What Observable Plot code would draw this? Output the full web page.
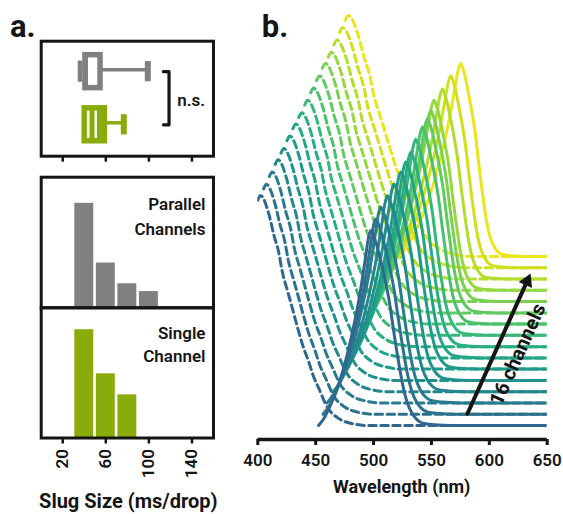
<!DOCTYPE html>
<html>
<head>
<meta charset="utf-8">
<script src="https://cdn.jsdelivr.net/npm/d3@7"></script>
<script src="https://cdn.jsdelivr.net/npm/@observablehq/plot@0.6"></script>
<style>
  body { margin: 0; background: #fff; }
  #root { position: relative; width: 563px; height: 514px; overflow: hidden; font-family: Roboto, sans-serif; }
  #root svg { position: absolute; overflow: visible; }
</style>
</head>
<body>
<div id="root"></div>
<script>
// ---------------- data: panel a ----------------
const slugTicks = [20, 60, 100, 140];
const groups = ["Parallel Channels", "Single Channel"];
const boxMin = [36, 40];
const boxQ1 = [41.1, 40.4];
const boxMedian = [41.1, 47.2];
const boxMean = [41.1, 54.1];
const boxQ3 = [55.1, 59.1];
const boxMax = [99, 76.7];

const binStart = [30, 50, 70, 90];
const binEnd = [50, 70, 90, 110];
const parallelFreq = [0.56, 0.24, 0.129, 0.087];
const singleFreq = [0.582, 0.345, 0.232];

// ---------------- data: panel b ----------------
const wavelengthTicks = [400, 450, 500, 550, 600, 650];
const channels = [1, 2, 3, 4, 5, 6, 7, 8, 9, 10, 11, 12, 13, 14, 15, 16];
const channelOffset = [0.07, 0.126, 0.183, 0.239, 0.295, 0.352, 0.408, 0.464, 0.521, 0.577, 0.633, 0.69, 0.746, 0.802, 0.859, 0.915];
// dashed (absorbance-like) curves
const absStart = [400, 405, 410, 415, 420, 425.2, 430.3, 435.4, 440.5, 445.6, 450.7, 455.8, 460.8, 465.7, 470.6, 475.5];
const absPeak = [1.15, 1.15, 1.155, 1.16, 1.16, 1.165, 1.17, 1.17, 1.175, 1.18, 1.185, 1.19, 1.19, 1.195, 1.2, 1.205];
const absWidth = [1.0, 1.01, 1.02, 1.03, 1.05, 1.06, 1.07, 1.08, 1.09, 1.1, 1.11, 1.13, 1.14, 1.15, 1.16, 1.17];
const absShapeOffset = [0, 2.3, 9.5, 13.8, 18.2, 21.1, 25.4, 29.8, 34.1, 38.4, 44.1, 48.4, 52.8, 60, 70, 80, 95];
const absShapeLevel = [0.98, 1.0, 0.92, 0.83, 0.75, 0.67, 0.59, 0.51, 0.43, 0.355, 0.275, 0.21, 0.16, 0.08, 0.03, 0.01, 0];
// solid (emission) curves
const emPeakNm = [497.5, 501.8, 506.1, 511.9, 517.6, 523.4, 527.8, 532.1, 536.4, 542.2, 546.5, 549.4, 552.2, 559.5, 566.7, 575.3];
const emPeak = [0.975, 0.977, 0.98, 0.98, 0.983, 0.985, 0.98, 0.972, 0.98, 0.985, 0.97, 0.955, 0.95, 0.95, 0.96, 0.965];
const emLeftWidth = [1.0, 1.01, 1.03, 1.04, 1.05, 1.07, 1.08, 1.09, 1.11, 1.12, 1.13, 1.15, 1.16, 1.17, 1.19, 1.2];
const emRightWidth = [1.0, 0.99, 0.97, 0.96, 0.94, 0.93, 0.91, 0.9, 0.88, 0.87, 0.85, 0.84, 0.82, 0.81, 0.79, 0.78];
const emShapeOffset = [-45, -40, -35, -30, -25, -20, -15, -10, -7, -4, -2, 0, 2, 5, 8, 12, 16, 20, 24, 28, 32, 36, 40, 45, 55, 70];
const emShapeLevel = [0, 0.04, 0.10, 0.17, 0.26, 0.37, 0.50, 0.65, 0.76, 0.88, 0.96, 1, 0.98, 0.93, 0.86, 0.76, 0.64, 0.48, 0.33, 0.2, 0.11, 0.06, 0.03, 0.012, 0.004, 0];

// ---------------- styles ----------------
const INK = "#151515";
const groupColor = ["#808080", "#8aab0c"];
const chColor = i => d3.interpolateViridis(0.33 + 0.64 * i / 15);
const baseStyle = {background: "transparent", fontFamily: "Roboto, sans-serif", fontSize: "17px", fontWeight: 600, color: INK};

const root = document.getElementById("root");
function place(svg, left, top) {
  svg.style.left = left + "px";
  svg.style.top = top + "px";
  root.appendChild(svg);
}

// ---------------- panel b ----------------
const absData = [], emData = [];
for (let i = channels.length - 1; i >= 0; --i) {
  const color = chColor(i);
  absShapeOffset.forEach((d, k) => absData.push({ch: channels[i], color, wavelength: absStart[i] + d * absWidth[i], intensity: channelOffset[i] + absPeak[i] * absShapeLevel[k]}));
  absData.push({ch: channels[i], color, wavelength: 650, intensity: channelOffset[i]});
  emShapeOffset.forEach((d, k) => emData.push({ch: channels[i], color, wavelength: emPeakNm[i] + d * (d < 0 ? emLeftWidth[i] : emRightWidth[i]), intensity: channelOffset[i] + emPeak[i] * emShapeLevel[k]}));
  emData.push({ch: channels[i], color, wavelength: 650, intensity: channelOffset[i]});
}
const arrowSpec = [{x1: 581.1, y1: 0.1285, x2: 636.5, y2: 0.8415}];

const B = Plot.plot({
  width: 333, height: 514,
  marginLeft: 27.3, marginRight: 16.3, marginTop: 7, marginBottom: 75,
  style: baseStyle,
  x: {domain: [400, 650], axis: null},
  y: {domain: [0, 2.16], axis: null},
  color: {type: "identity"},
  marks: [
    Plot.line(absData, {x: "wavelength", y: "intensity", z: "ch", stroke: "color", strokeWidth: 3, strokeDasharray: "7.5,4.5", curve: "monotone-x", clip: true}),
    Plot.line(emData, {x: "wavelength", y: "intensity", z: "ch", stroke: "color", strokeWidth: 3, curve: "monotone-x", clip: true}),
    Plot.ruleY([0], {stroke: INK, strokeWidth: 3.5}),
    Plot.axisX(wavelengthTicks, {tickSize: 6, tickPadding: 8, strokeWidth: 3, fontSize: 17, fontWeight: 600}),
    Plot.arrow(arrowSpec, {x1: "x1", y1: "y1", x2: "x2", y2: "y2", stroke: INK, strokeWidth: 4, headLength: 0, insetEnd: 10}),
    Plot.dot(arrowSpec, {x: "x2", y: "y2", symbol: "triangle2", r: 7, fill: INK, rotate: 24.2, dx: -4.46, dy: 9.94}),
    Plot.text(["16 channels"], {text: d => d, x: 624.6, y: 0.425, rotate: -65.8, fontSize: 20, fontWeight: 700, fill: INK, textAnchor: "middle", lineAnchor: "middle"})
  ]
});
place(B, 230, 0);

// ---------------- panel a ----------------
const boxRows = groups.map((g, i) => ({group: g, row: i + 1, min: boxMin[i], q1: boxQ1[i], median: boxMedian[i], mean: boxMean[i], q3: boxQ3[i], max: boxMax[i], color: groupColor[i]}));
const bracket = [{x: 113.5, y: 1}, {x: 118.7, y: 1}, {x: 118.7, y: 2}, {x: 113.5, y: 2}];

const A1 = Plot.plot({
  width: 240, height: 170,
  marginLeft: 40.7, marginRight: 27, marginTop: 40.7, marginBottom: 14.3,
  style: baseStyle,
  x: {domain: [0, 160], axis: null},
  y: {domain: [0.427, 2.591], reverse: true, axis: null},
  color: {type: "identity"},
  marks: [
    Plot.ruleY(boxRows, {y: "row", x1: "q3", x2: "max", stroke: "color", strokeWidth: 3.5, dy: -2}),
    Plot.ruleY(boxRows, {y: "row", x1: "min", x2: "q1", stroke: "color", strokeWidth: 3.5, dy: -2}),
    Plot.ruleX(boxRows, {x: "min", y1: d => d.row - 0.2, y2: d => d.row + 0.2, stroke: "color", strokeWidth: 4.5}),
    Plot.ruleX(boxRows, {x: "max", y1: d => d.row - 0.19, y2: d => d.row + 0.19, stroke: "color", strokeWidth: 6}),
    Plot.rect(boxRows, {x1: "q1", x2: "q3", y1: d => d.row - 0.31, y2: d => d.row + 0.31, fill: "white", stroke: "color", strokeWidth: 5.5}),
    Plot.ruleX(boxRows, {x: "median", y1: d => d.row - 0.31, y2: d => d.row + 0.31, stroke: "color", strokeWidth: 5}),
    Plot.ruleX(boxRows, {x: "mean", y1: d => d.row - 0.31, y2: d => d.row + 0.31, stroke: "color", strokeWidth: 5}),
    Plot.line(bracket, {x: "x", y: "y", stroke: INK, strokeWidth: 3.2}),
    Plot.text(["n.s."], {text: d => d, x: 126.3, y: 1.54, textAnchor: "start", lineAnchor: "middle", fontSize: 17, fontWeight: 600, fill: INK}),
    Plot.axisX(slugTicks, {tickSize: 6, tickFormat: () => "", strokeWidth: 2.5}),
    Plot.frame({stroke: INK, strokeWidth: 3})
  ]
});
place(A1, 0, 0);

const parallelBins = binStart.map((s, i) => ({x1: s, x2: binEnd[i], freq: parallelFreq[i]}));
const singleBins = singleFreq.map((f, i) => ({x1: binStart[i], x2: binEnd[i], freq: f}));

const A2 = Plot.plot({
  width: 240, height: 160,
  marginLeft: 40.7, marginRight: 27, marginTop: 16.7, marginBottom: 12.7,
  style: baseStyle,
  x: {domain: [0, 160], axis: null},
  y: {domain: [0, 0.7], axis: null},
  marks: [
    Plot.rectY(parallelBins, {x1: "x1", x2: "x2", y: "freq", fill: groupColor[0], insetLeft: 1.3, insetRight: 1.3}),
    Plot.text(["Parallel\nChannels"], {text: d => d, frameAnchor: "top-right", dx: -8, dy: 16, lineAnchor: "top", textAnchor: "end", lineHeight: 1.43, fontSize: 17, fontWeight: 600, fill: INK}),
    Plot.frame({stroke: INK, strokeWidth: 3})
  ]
});
place(A2, 0, 160);

const A3 = Plot.plot({
  width: 240, height: 214,
  marginLeft: 40.7, marginRight: 27, marginTop: 7.3, marginBottom: 76.5,
  style: baseStyle,
  x: {domain: [0, 160], axis: null},
  y: {domain: [0, 0.7], axis: null},
  marks: [
    Plot.rectY(singleBins, {x1: "x1", x2: "x2", y: "freq", fill: groupColor[1], insetLeft: 1.3, insetRight: 1.3}),
    Plot.text(["Single\nChannel"], {text: d => d, frameAnchor: "top-right", dx: -8, dy: 14.4, lineAnchor: "top", textAnchor: "end", lineHeight: 1.37, fontSize: 17, fontWeight: 600, fill: INK}),
    Plot.axisX(slugTicks, {tickSize: 6, tickPadding: 5, tickRotate: -90, strokeWidth: 2.5, fontSize: 17, fontWeight: 600}),
    Plot.frame({stroke: INK, strokeWidth: 3})
  ]
});
place(A3, 0, 300);

// ---------------- overlay labels ----------------
const ns = "http://www.w3.org/2000/svg";
const ov = document.createElementNS(ns, "svg");
ov.setAttribute("width", 563);
ov.setAttribute("height", 514);
ov.style.left = "0px"; ov.style.top = "0px"; ov.style.pointerEvents = "none";
function addText(str, x, y, size, anchor) {
  const t = document.createElementNS(ns, "text");
  t.setAttribute("x", x); t.setAttribute("y", y);
  t.setAttribute("font-family", "Roboto, sans-serif");
  t.setAttribute("font-weight", 700);
  t.setAttribute("font-size", size);
  t.setAttribute("fill", INK);
  t.setAttribute("text-anchor", anchor);
  t.textContent = str;
  ov.appendChild(t);
}
addText("a.", 10, 36.7, 31, "start");
addText("b.", 261.7, 36.7, 31, "start");
addText("Slug Size (ms/drop)", 128.3, 508, 20, "middle");
addText("Wavelength (nm)", 401.7, 493.3, 18, "middle");
root.appendChild(ov);
</script>
</body>
</html>
